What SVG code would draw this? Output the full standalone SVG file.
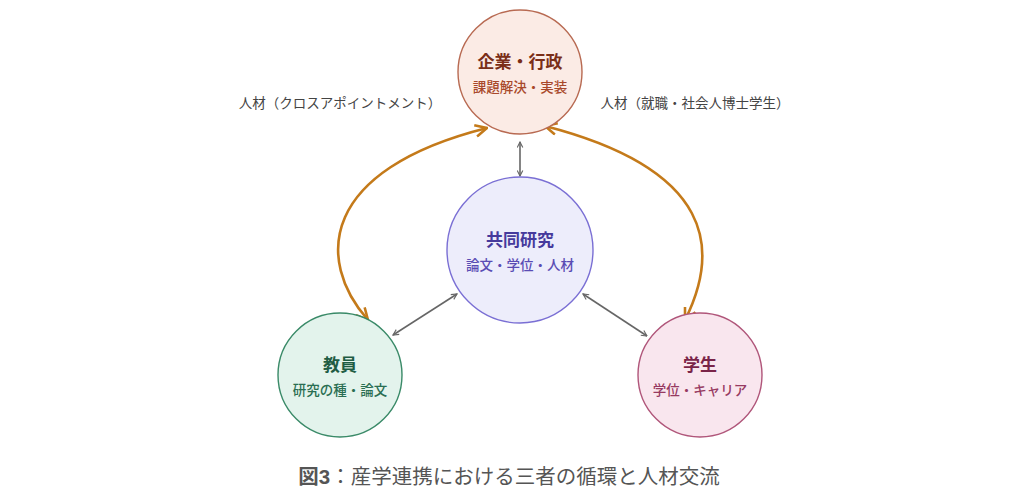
<svg xmlns="http://www.w3.org/2000/svg" width="1024" height="503" viewBox="0 0 1024 503">
<defs>
<style>
text{font-family:"Noto Sans CJK JP","Noto Sans",sans-serif;text-anchor:middle}
.t{font-size:17px;font-weight:bold}
.s{font-size:13.5px;font-weight:500}
.lbl{font-size:13.5px;fill:#444}
.g{stroke:#666;stroke-width:1.6;fill:none}
.o{stroke:#c47a1a;stroke-width:2.6;fill:none}
</style>
<marker id="ga" viewBox="0 0 10 10" refX="9" refY="5" markerWidth="7" markerHeight="7" orient="auto-start-reverse" markerUnits="userSpaceOnUse"><path d="M1 1 L9 5 L1 9" fill="none" stroke="#666" stroke-width="1.6"/></marker>
<marker id="oa" viewBox="0 0 12 12" refX="11" refY="6" markerWidth="14" markerHeight="14" orient="auto-start-reverse" markerUnits="userSpaceOnUse"><path d="M1 1 L11 6 L1 11" fill="none" stroke="#c47a1a" stroke-width="2.2"/></marker>
</defs>
<rect width="1024" height="503" fill="#fff"/>
<g id="connectors">
<path class="o" d="M368 320 C315 260 320 170 487 128" marker-start="url(#oa)" marker-end="url(#oa)"/>
<path class="o" d="M545 126 C715 170 720 250 685 320" marker-start="url(#oa)" marker-end="url(#oa)"/>
<line class="g" x1="520" y1="142" x2="520" y2="176" marker-start="url(#ga)" marker-end="url(#ga)"/>
<line class="g" x1="393" y1="335" x2="457" y2="294" marker-start="url(#ga)" marker-end="url(#ga)"/>
<line class="g" x1="583" y1="294" x2="647" y2="336" marker-start="url(#ga)" marker-end="url(#ga)"/>
<text class="lbl" x="340" y="108">人材（クロスアポイントメント）</text>
<text class="lbl" x="695" y="108">人材（就職・社会人博士学生）</text>
</g>
<g id="kigyo">
<circle cx="520" cy="72" r="62" fill="#fbebe5" stroke="#b86a52" stroke-width="1.4"/>
<text class="t" x="520" y="68" fill="#7a2e18">企業・行政</text>
<text class="s" x="520" y="92" fill="#a8482a">課題解決・実装</text>
</g>
<g id="kyodo">
<circle cx="520" cy="250" r="73" fill="#ededfb" stroke="#7a6fd4" stroke-width="1.4"/>
<text class="t" x="520" y="246" fill="#463a9c">共同研究</text>
<text class="s" x="520" y="270" fill="#5a4cb4">論文・学位・人材</text>
</g>
<g id="kyoin">
<circle cx="340" cy="375" r="62" fill="#e3f3ec" stroke="#3a8a68" stroke-width="1.4"/>
<text class="t" x="340" y="371" fill="#1f5c43">教員</text>
<text class="s" x="340" y="395" fill="#2a6e52">研究の種・論文</text>
</g>
<g id="gakusei">
<circle cx="700" cy="375" r="62" fill="#f9e6ee" stroke="#b0567a" stroke-width="1.4"/>
<text class="t" x="700" y="371" fill="#7a2448">学生</text>
<text class="s" x="700" y="395" fill="#973a62">学位・キャリア</text>
</g>
<text x="509" y="484" style="font-size:20.5px;fill:#555;font-family:'Liberation Sans','Noto Sans CJK JP',sans-serif"><tspan font-weight="bold">図3</tspan>：産学連携における三者の循環と人材交流</text>
</svg>
